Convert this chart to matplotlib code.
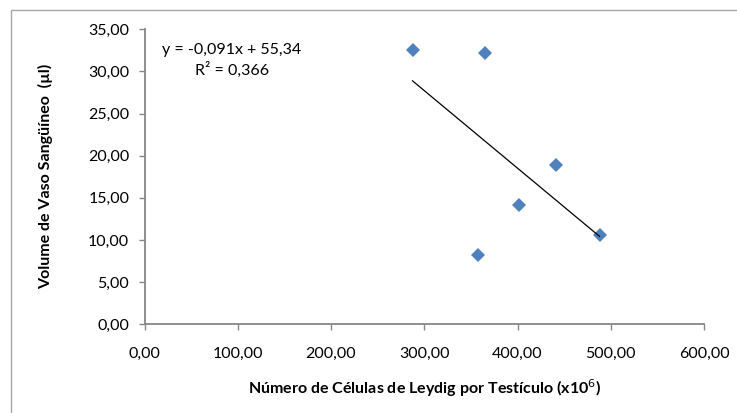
import numpy as np
import matplotlib
matplotlib.use("Agg")
import matplotlib.pyplot as plt
from matplotlib.patches import Rectangle
from matplotlib.ticker import FuncFormatter, MultipleLocator

plt.rcParams['font.family'] = ['Lato', 'DejaVu Sans']

# Data
leydig_cells = [287.4, 365.2, 357.7, 401.3, 441.2, 488.0]
vessel_volume = [32.6, 32.2, 8.2, 14.1, 18.9, 10.6]
equation_text = "y = -0,091x + 55,34\nR² = 0,366"
x_label = "Número de Células de Leydig por Testículo (x10$^{6}$)"
y_label = "Volume de Vaso Sangüíneo  (µl)"

W, H = 737, 413
fig = plt.figure(figsize=(W / 100, H / 100), dpi=100)
fig.patches.append(Rectangle((11 / W, -0.1), 1.2, (H - 10) / H + 0.1,
                             transform=fig.transFigure, fill=False,
                             edgecolor='#a6a6a6', lw=1.0))

ax = fig.add_axes([144.5 / W, (H - 324.3) / H, (704 - 144.5) / W, (324.3 - 29.3) / H])
ax.set_xlim(0, 600)
ax.set_ylim(0, 35)

x = np.array(leydig_cells)
y = np.array(vessel_volume)
ax.plot(x, y, linestyle='none', marker='D', ms=6.8, color='#4F81BD',
        markeredgewidth=0, zorder=3)
m, b = np.polyfit(x, y, 1)
xs = np.array([x.min(), x.max()])
ax.plot(xs, m * xs + b, color='black', lw=0.9, zorder=4)

fmt = FuncFormatter(lambda v, p: f"{v:.2f}".replace('.', ','))
ax.xaxis.set_major_locator(MultipleLocator(100))
ax.yaxis.set_major_locator(MultipleLocator(5))
ax.xaxis.set_major_formatter(fmt)
ax.yaxis.set_major_formatter(fmt)

for s in ['top', 'right']:
    ax.spines[s].set_visible(False)
for s in ['left', 'bottom']:
    ax.spines[s].set_color('#868686')
    ax.spines[s].set_linewidth(1.3)
ax.tick_params(axis='both', direction='out', length=4, width=1.0,
               color='#868686', labelsize=11.5, labelcolor='black')
ax.tick_params(axis='x', pad=12)
ax.tick_params(axis='y', pad=7)

ax.set_xlabel(x_label, fontsize=11.5, fontweight='bold', labelpad=12)
ax.set_ylabel(y_label, fontsize=11.5, fontweight='bold', labelpad=25)

ax.text((232 - 144.5) / (704 - 144.5), (324.3 - 43) / (324.3 - 29.3), equation_text,
        transform=ax.transAxes, ha='center', va='top', multialignment='center',
        fontsize=11.5, linespacing=1.4)

fig.savefig('out.png', dpi=100)
